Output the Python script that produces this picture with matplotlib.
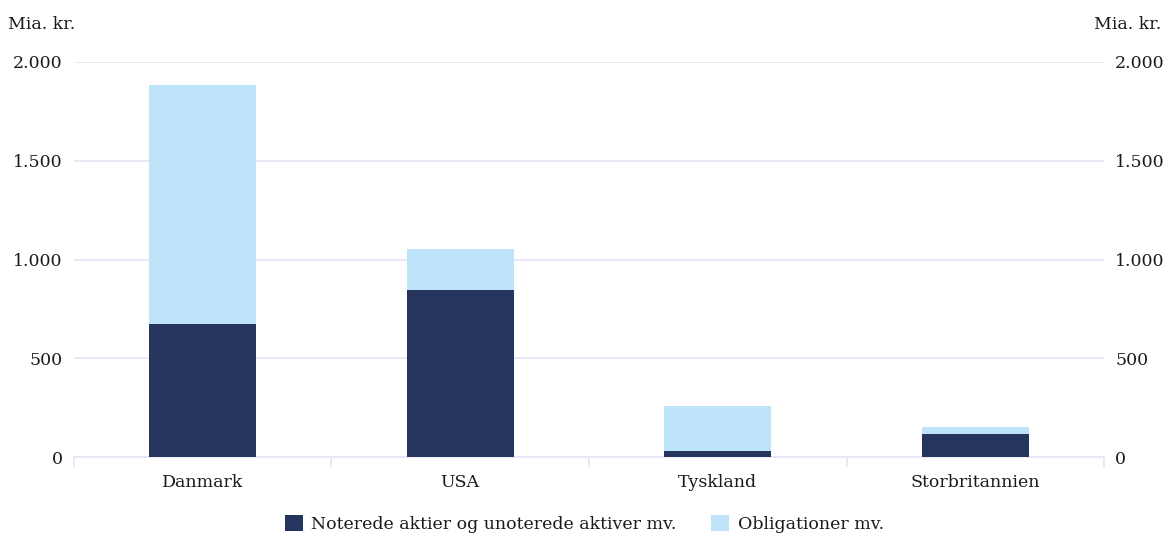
import matplotlib.pyplot as plt
import numpy as np

# values in mia. kr.
countries = ["Danmark", "USA", "Tyskland", "Storbritannien"]
aktier = [673, 845, 30, 116]
obligationer = [1211, 208, 228, 36]
yticks = [0, 500, 1000, 1500, 2000]
ytick_labels = ["0", "500", "1.000", "1.500", "2.000"]

DARK = "#26355e"
LIGHT = "#bde4f9"
GRID = "#e8e6f5"
TEXT = "#1a1a1a"

plt.rcParams["font.family"] = ["DejaVu Serif", "Liberation Serif"]
plt.rcParams["font.size"] = 12.5

fig = plt.figure(figsize=(11.69, 5.39), dpi=100)
ax = fig.add_axes([0.0633, 0.152, 0.8811, 0.733])

x = np.arange(len(countries))
ax.bar(x, aktier, width=0.415, color=DARK, label="Noterede aktier og unoterede aktiver mv.", zorder=3)
ax.bar(x, obligationer, width=0.415, bottom=aktier, color=LIGHT, label="Obligationer mv.", zorder=3)

ax.set_xlim(-0.5, len(countries) - 0.5)
ax.set_ylim(0, 2000)
ax.set_yticks(yticks)
ax.set_yticklabels(ytick_labels)
ax.yaxis.grid(True, color=GRID, linewidth=1.3, zorder=0)
ax.tick_params(axis="y", length=0, pad=8, labelcolor=TEXT,
               left=True, right=True, labelleft=True, labelright=True)

ax.set_xticks(x)
ax.set_xticklabels(countries)
ax.set_xticks(np.arange(-0.5, len(countries)), minor=True)
ax.tick_params(axis="x", which="major", length=0, pad=12, labelcolor=TEXT)
ax.tick_params(axis="x", which="minor", length=7, width=1.3, color=GRID)

for side in ["top", "left", "right"]:
    ax.spines[side].set_visible(False)
ax.spines["bottom"].set_color(GRID)
ax.spines["bottom"].set_linewidth(1.3)

fig.text(0.007, 0.955, "Mia. kr.", ha="left", va="center", color=TEXT)
fig.text(0.993, 0.955, "Mia. kr.", ha="right", va="center", color=TEXT)

leg = fig.legend(loc="lower center", bbox_to_anchor=(0.5, -0.018), ncol=2, frameon=False,
                 handlelength=1.0, handleheight=1.0, handletextpad=0.5, columnspacing=2.0)
for t in leg.get_texts():
    t.set_color(TEXT)

fig.savefig("out.png", dpi=100)
